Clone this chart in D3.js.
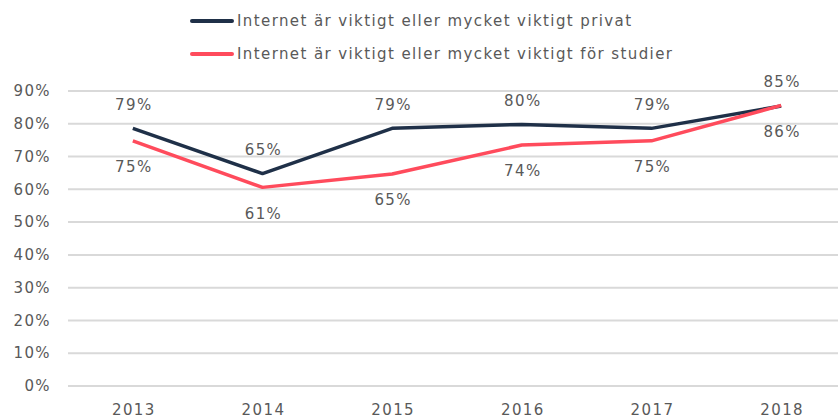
<!DOCTYPE html>
<html>
<head>
<meta charset="utf-8">
<script src="https://cdn.jsdelivr.net/npm/d3@7"></script>
<style>
  body { margin: 0; background: #fff; }
  text { font-family: "DejaVu Sans", sans-serif; fill: #595959; letter-spacing: 1.4px; }
</style>
</head>
<body>
<div id="chart"></div>
<script>
// data
var years = ["2013", "2014", "2015", "2016", "2017", "2018"];
var privat = [78.6, 64.8, 78.6, 79.8, 78.6, 85.4];
var studier = [74.8, 60.6, 64.7, 73.5, 74.8, 85.6];
var seriesNames = ["Internet är viktigt eller mycket viktigt privat",
                   "Internet är viktigt eller mycket viktigt för studier"];
var yTicks = [0, 10, 20, 30, 40, 50, 60, 70, 80, 90];

var width = 838, height = 418;
var colors = ["#1f3048", "#ff4b5c"];

var svg = d3.select("#chart")
    .append("svg")
    .attr("width", width)
    .attr("height", height);

// scales
var x = d3.scaleBand()
    .domain(years)
    .range([68, 846]);

var y = d3.scaleLinear()
    .domain([0, 90])
    .range([386, 91]);

// grid lines
svg.append("g").selectAll("line")
    .data(yTicks)
    .enter()
    .append("line")
    .attr("x1", 68)
    .attr("x2", 846)
    .attr("y1", function(d) { return y(d); })
    .attr("y2", function(d) { return y(d); })
    .attr("stroke", "#d9d9d9")
    .attr("stroke-width", 2);

// y axis labels
svg.append("g").selectAll("text")
    .data(yTicks)
    .enter()
    .append("text")
    .attr("x", 51)
    .attr("y", function(d) { return y(d); })
    .attr("dy", "0.35em")
    .attr("text-anchor", "end")
    .attr("font-size", 15)
    .text(function(d) { return d + "%"; });

// x axis labels
svg.append("g").selectAll("text")
    .data(years)
    .enter()
    .append("text")
    .attr("x", function(d) { return x(d) + x.bandwidth() / 2 + 1; })
    .attr("y", 415)
    .attr("text-anchor", "middle")
    .attr("font-size", 15)
    .text(function(d) { return d; });

var series = [
    {name: seriesNames[0], values: privat, color: colors[0], offset: -24},
    {name: seriesNames[1], values: studier, color: colors[1], offset: 26}
];

var line = d3.line()
    .x(function(d, i) { return x(years[i]) + x.bandwidth() / 2; })
    .y(function(d) { return y(d); });

// draw lines
svg.append("g").selectAll("path")
    .data(series)
    .enter()
    .append("path")
    .attr("d", function(d) { return line(d.values); })
    .attr("fill", "none")
    .attr("stroke", function(d) { return d.color; })
    .attr("stroke-width", 3.5)
    .attr("stroke-linejoin", "round");

// data labels
var fmt = d3.format(".0f");
series.forEach(function(s) {
    svg.append("g").selectAll("text")
        .data(s.values)
        .enter()
        .append("text")
        .attr("x", function(d, i) { return x(years[i]) + x.bandwidth() / 2 + 1; })
        .attr("y", function(d) { return y(d) + s.offset; })
        .attr("dy", "0.35em")
        .attr("text-anchor", "middle")
        .attr("font-size", 15)
        .text(function(d) { return fmt(d) + "%"; });
});

// legend
var legend = svg.append("g").selectAll("g")
    .data(series)
    .enter()
    .append("g")
    .attr("transform", function(d, i) { return "translate(192," + (21 + i * 33) + ")"; });

legend.append("line")
    .attr("x1", 0)
    .attr("x2", 40)
    .attr("stroke", function(d) { return d.color; })
    .attr("stroke-width", 4)
    .attr("stroke-linecap", "round");

legend.append("text")
    .attr("x", 45)
    .attr("dy", "0.35em")
    .attr("font-size", 15)
    .text(function(d) { return d.name; });
</script>
</body>
</html>
